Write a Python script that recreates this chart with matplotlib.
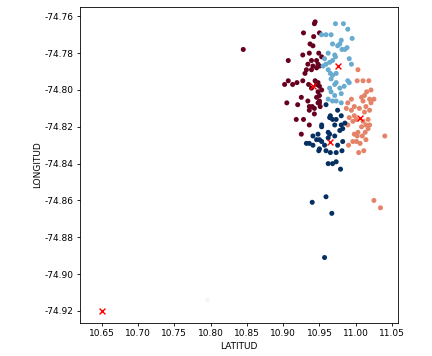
import numpy as np
import matplotlib
matplotlib.use("Agg")
import matplotlib.pyplot as plt

# cluster 0 - dark red
lat_c0 = [10.944, 10.943, 10.928, 10.950, 10.942, 10.937, 10.941, 10.949, 10.953, 10.927,
          10.936, 10.907, 10.939, 10.946, 10.934, 10.941, 10.948, 10.932, 10.939, 10.946,
          10.950, 10.930, 10.919, 10.907, 10.902, 10.913, 10.944, 10.948, 10.946, 10.950,
          10.953, 10.948, 10.950, 10.946, 10.950, 10.948, 10.951, 10.927, 10.935, 10.939,
          10.905, 10.925, 10.934, 10.936, 10.943, 10.918, 10.928, 10.936, 10.920, 10.940,
          10.950, 10.936, 10.943, 10.925, 10.845]
lon_c0 = [-74.763, -74.764, -74.769, -74.769, -74.771, -74.775, -74.776, -74.780, -74.782, -74.781,
          -74.780, -74.784, -74.784, -74.784, -74.786, -74.787, -74.786, -74.789, -74.789, -74.788,
          -74.787, -74.791, -74.796, -74.795, -74.797, -74.797, -74.795, -74.796, -74.797, -74.798,
          -74.800, -74.801, -74.803, -74.804, -74.806, -74.807, -74.809, -74.795, -74.797, -74.799,
          -74.807, -74.804, -74.806, -74.809, -74.810, -74.816, -74.816, -74.819, -74.808, -74.809,
          -74.807, -74.811, -74.813, -74.824, -74.778]

# cluster 1 - salmon
lat_c1 = [11.003, 11.002, 11.010, 11.018, 11.021, 11.012, 11.010, 11.019, 11.025, 10.994,
          10.989, 10.998, 10.994, 10.987, 11.005, 11.014, 11.019, 11.012, 10.998, 10.991,
          11.001, 11.010, 11.017, 11.021, 10.989, 10.996, 11.014, 11.017, 11.008, 11.003,
          10.998, 11.002, 11.009, 11.013, 11.019, 10.996, 11.001, 11.006, 11.014, 10.990,
          11.004, 11.011, 11.040, 11.025, 11.034, 11.008, 11.015]
lon_c1 = [-74.789, -74.795, -74.795, -74.795, -74.800, -74.803, -74.806, -74.805, -74.805, -74.805,
          -74.807, -74.809, -74.811, -74.810, -74.810, -74.809, -74.811, -74.812, -74.814, -74.815,
          -74.816, -74.817, -74.816, -74.807, -74.819, -74.817, -74.819, -74.821, -74.820, -74.823,
          -74.824, -74.825, -74.825, -74.823, -74.819, -74.828, -74.828, -74.829, -74.827, -74.830,
          -74.834, -74.833, -74.825, -74.860, -74.864, -74.804, -74.801]

# cluster 2 - almost white
lat_c2 = [10.796]
lon_c2 = [-74.914]

# cluster 3 - light blue
lat_c3 = [10.972, 10.983, 10.989, 10.953, 10.959, 10.966, 10.980, 10.978, 10.975, 10.968,
          10.995, 10.988, 10.985, 10.971, 10.981, 10.957, 10.964, 10.968, 10.959, 10.955,
          10.994, 10.965, 10.968, 10.973, 10.966, 10.973, 10.971, 10.978, 10.989, 10.964,
          10.966, 10.971, 10.980, 10.962, 10.973, 10.980, 10.991, 10.962, 10.968, 10.991,
          10.962, 10.972, 10.984]
lon_c3 = [-74.764, -74.764, -74.767, -74.770, -74.770, -74.770, -74.773, -74.775, -74.776, -74.775,
          -74.772, -74.777, -74.778, -74.781, -74.778, -74.783, -74.785, -74.784, -74.786, -74.787,
          -74.786, -74.791, -74.792, -74.791, -74.794, -74.796, -74.797, -74.799, -74.795, -74.799,
          -74.801, -74.803, -74.802, -74.805, -74.806, -74.807, -74.796, -74.789, -74.806, -74.783,
          -74.780, -74.782, -74.798]

# cluster 4 - navy
lat_c4 = [10.965, 10.975, 10.980, 10.964, 10.968, 10.973, 10.953, 10.971, 10.980, 10.982,
          10.978, 10.962, 10.964, 10.941, 10.948, 10.950, 10.953, 10.946, 10.932, 10.936,
          10.941, 10.971, 10.975, 10.982, 10.950, 10.949, 10.959, 10.965, 10.973, 10.981,
          10.962, 10.968, 10.973, 10.979, 10.940, 10.959, 10.967, 10.957, 10.959, 10.953,
          10.957, 10.962, 10.985]
lon_c4 = [-74.814, -74.811, -74.814, -74.815, -74.816, -74.816, -74.819, -74.819, -74.819, -74.821,
          -74.822, -74.823, -74.824, -74.825, -74.824, -74.827, -74.828, -74.827, -74.829, -74.829,
          -74.830, -74.825, -74.830, -74.828, -74.832, -74.833, -74.833, -74.834, -74.834, -74.833,
          -74.840, -74.840, -74.839, -74.843, -74.861, -74.858, -74.867, -74.891, -74.808, -74.820,
          -74.830, -74.826, -74.818]

# centroids
cent_lat = [10.650, 10.975, 10.941, 11.006, 10.964]
cent_lon = [-74.920, -74.787, -74.798, -74.815, -74.828]

lats = [lat_c0, lat_c1, lat_c2, lat_c3, lat_c4]
lons = [lon_c0, lon_c1, lon_c2, lon_c3, lon_c4]

x = np.concatenate(lats)
y = np.concatenate(lons)
labels = np.concatenate([np.full(len(l), i) for i, l in enumerate(lats)])

plt.rcParams['font.size'] = 6.5

fig = plt.figure(figsize=(4.32, 3.56), dpi=100)
ax = fig.add_axes([0.185, 0.093, 0.736, 0.887])

ax.scatter(x, y, c=labels, cmap='RdBu', vmin=0, vmax=4, s=13, linewidths=0)
ax.scatter(cent_lat, cent_lon, marker='x', color='red', s=18, linewidths=1)

ax.set_xlim(10.62, 11.058)
ax.set_ylim(-74.9265, -74.755)
ax.set_xticks([10.65, 10.70, 10.75, 10.80, 10.85, 10.90, 10.95, 11.00, 11.05])
ax.set_yticks([-74.92, -74.90, -74.88, -74.86, -74.84, -74.82, -74.80, -74.78, -74.76])
ax.xaxis.set_major_formatter(matplotlib.ticker.FormatStrFormatter('%.2f'))
ax.yaxis.set_major_formatter(matplotlib.ticker.FormatStrFormatter('%.2f'))
ax.set_xlabel("LATITUD", labelpad=3)
ax.set_ylabel("LONGITUD", labelpad=2)
ax.tick_params(length=2.5, width=0.6, pad=2)
for s in ax.spines.values():
    s.set_linewidth(0.6)

fig.savefig("out.png", dpi=100)
